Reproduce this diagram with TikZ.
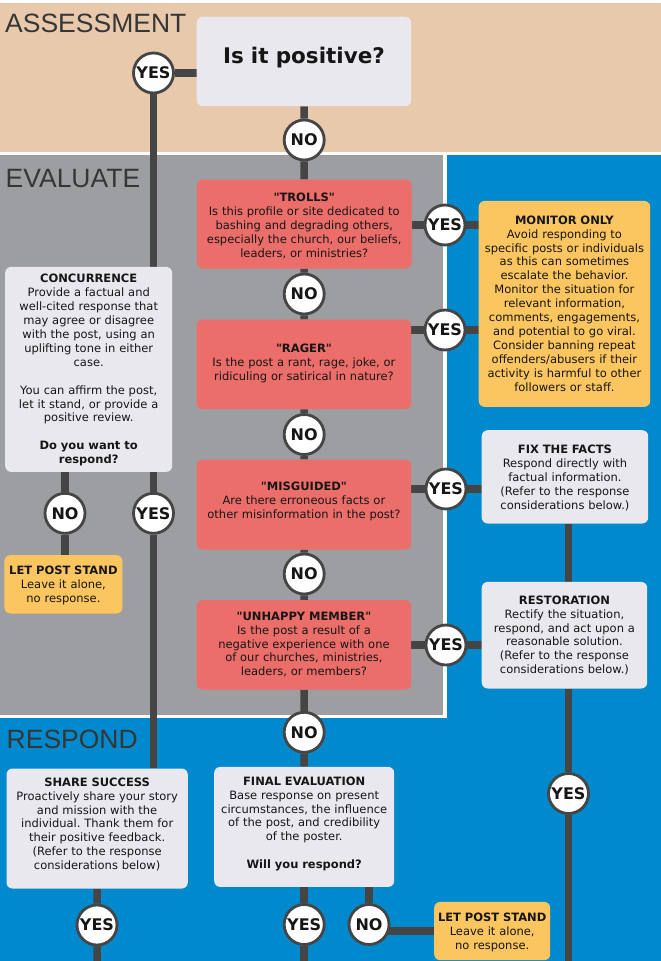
\documentclass[tikz,border=0pt]{standalone}
\usepackage{fontspec}
\setmainfont{DejaVu Sans}[Ligatures=TeXOff]
\newfontfamily\headfont{Liberation Sans}
\usetikzlibrary{positioning}
\frenchspacing

\definecolor{sandbg}{HTML}{E8C9AB}
\definecolor{slatebg}{HTML}{9D9EA2}
\definecolor{skybg}{HTML}{0089CC}
\definecolor{paleboxgray}{HTML}{E8E8EE}
\definecolor{trollred}{HTML}{EC6E6A}
\definecolor{calmyellow}{HTML}{FBC660}
\definecolor{wiregray}{HTML}{454545}
\definecolor{inkdark}{HTML}{161616}
\definecolor{headgray}{HTML}{363636}

\pgfdeclarelayer{backdrop}
\pgfdeclarelayer{wires}
\pgfsetlayers{backdrop,wires,main}

\begin{document}
\begin{tikzpicture}[
		x=1pt, y=-1pt,
		wire/.style={draw=wiregray, line width=7.5pt},
		box/.style={rounded corners=6pt, inner sep=0pt, align=center, anchor=north west, text=inkdark, font=\fontsize{11.5}{13.9}\selectfont},
		greybox/.style={box, fill=paleboxgray},
		redbox/.style={box, fill=trollred},
		yellowbox/.style={box, fill=calmyellow},
		answer/.style={circle, draw=wiregray, line width=2.8pt, fill=white, minimum size=40pt, inner sep=0pt, text=inkdark, font=\bfseries\fontsize{16}{16}\selectfont},
		heading/.style={anchor=base west, inner sep=0pt, text=headgray, font=\headfont\fontsize{26.5}{26.5}\selectfont}
		]
		\useasboundingbox (0,0) rectangle (661,961);
		
		% Zones
		\begin{pgfonlayer}{backdrop}
			\fill[white] (0,0) rectangle (661,961);
			\fill[sandbg] (0,3.3) rectangle (661,152);
			\fill[skybg] (0,155) rectangle (661,961);
			\fill[white] (0,155) rectangle (447,718);
			\fill[slatebg] (0,155) rectangle (443,715);
		\end{pgfonlayer}
		
		\node[heading] (asshead) at (5,32.5) {ASSESSMENT};
		\node[heading] (evalhead) at (5.5,187) {EVALUATE};
		\node[heading] (resphead) at (6.5,748.3) {RESPOND};
		
		% Question boxes
		\node[greybox, text width=214.5pt, text height=46.8pt, text depth=42.7pt, font=\bfseries\fontsize{21.5}{21.5}\selectfont] (ispos) at (196.5,16.5) {Is it positive?};
		
		\node[redbox, text width=214.5pt, text height=22.4pt, text depth=66.6pt] (trolls) at (196.8,179.3) {
			\textbf{"TROLLS"}\\
			Is this profile or site dedicated to\\
			bashing and degrading others,\\
			especially the church, our beliefs,\\
			leaders, or ministries?};
		
		\node[redbox, text width=214.5pt, text height=33.4pt, text depth=56.3pt] (rager) at (196.5,319.3) {
			\textbf{"RAGER"}\\
			Is the post a rant, rage, joke, or\\
			ridiculing or satirical in nature?};
		
		\node[redbox, text width=214.5pt, text height=30.7pt, text depth=59.3pt] (misguided) at (196.5,459.3) {
			\textbf{"MISGUIDED"}\\
			Are there erroneous facts or\\
			other misinformation in the post?};
		
		\node[redbox, text width=214.5pt, text height=20pt, text depth=69.3pt] (unhappy) at (196.5,600) {
			\textbf{"UNHAPPY MEMBER"}\\
			Is the post a result of a\\
			negative experience with one\\
			of our churches, ministries,\\
			leaders, or members?};
		
		% Outcome boxes
		\node[yellowbox, text width=171.5pt, text height=23.3pt, text depth=182.7pt] (monitor) at (478.5,200.7) {
			\textbf{MONITOR ONLY}\\
			Avoid responding to\\
			specific posts or individuals\\
			as this can sometimes\\
			escalate the behavior.\\
			Monitor the situation for\\
			relevant information,\\
			comments, engagements,\\
			and potential to go viral.\\
			Consider banning repeat\\
			offenders/abusers if their\\
			activity is harmful to other\\
			followers or staff.};
		
		\node[greybox, text width=166.5pt, text height=23.3pt, text depth=70pt] (fix) at (481.5,430) {
			\textbf{FIX THE FACTS}\\
			Respond directly with\\
			factual information.\\
			(Refer to the response\\
			considerations below.)};
		
		\node[greybox, text width=165.5pt, text height=22.3pt, text depth=84.3pt] (restore) at (481.5,581.7) {
			\textbf{RESTORATION}\\
			Rectify the situation,\\
			respond, and act upon a\\
			reasonable solution.\\
			(Refer to the response\\
			considerations below.)};
		
		\node[greybox, text width=167pt, text height=16pt, text depth=189pt] (concur) at (5,266.7) {
			\textbf{CONCURRENCE}\\
			Provide a factual and\\
			well-cited response that\\
			may agree or disagree\\
			with the post, using an\\
			uplifting tone in either\\
			case.\\[13.9pt]
			You can affirm the post,\\
			let it stand, or provide a\\
			positive review.\\[13.9pt]
			\textbf{Do you want to}\\
			\textbf{respond?}};
		
		\node[yellowbox, text width=118pt, text height=19pt, text depth=39.3pt] (letstand) at (4.2,555) {
			\textbf{LET POST STAND}\\
			Leave it alone,\\
			no response.};
		
		\node[greybox, text width=181.3pt, text height=17.7pt, text depth=102.3pt] (share) at (6.3,768.3) {
			\textbf{SHARE SUCCESS}\\
			Proactively share your story\\
			and mission with the\\
			individual. Thank them for\\
			their positive feedback.\\
			(Refer to the response\\
			considerations below)};
		
		\node[greybox, text width=180pt, text height=18.3pt, text depth=101.7pt] (final) at (214,766.7) {
			\textbf{FINAL EVALUATION}\\
			Base response on present\\
			circumstances, the influence\\
			of the post, and credibility\\
			of the poster.\\[13.9pt]
			\textbf{Will you respond?}};
		
		\node[yellowbox, text width=116pt, text height=20pt, text depth=38.3pt] (letstandb) at (434,901.7) {
			\textbf{LET POST STAND}\\
			Leave it alone,\\
			no response.};
		
		% Answer circles
		\node[answer] (yestop) at (153.5,73) {YES};
		\node[answer] (notop) at (304.2,140) {NO};
		\node[answer] (yestroll) at (445,225) {YES};
		\node[answer] (notroll) at (304.2,294) {NO};
		\node[answer] (yesrage) at (445,330) {YES};
		\node[answer] (norage) at (304.2,434.5) {NO};
		\node[answer] (yesmis) at (446,489) {YES};
		\node[answer] (nomis) at (304.2,574) {NO};
		\node[answer] (yesunhappy) at (446,645) {YES};
		\node[answer] (nounhappy) at (304.2,732.3) {NO};
		\node[answer] (noconcur) at (65,513.3) {NO};
		\node[answer] (yesconcur) at (153.5,513.3) {YES};
		\node[answer] (yesshare) at (97,925) {YES};
		\node[answer] (yesfinal) at (304.2,924.5) {YES};
		\node[answer] (nofinal) at (369,924.5) {NO};
		\node[answer] (yesrestore) at (568.5,793.5) {YES};
		
		\coordinate (shareend) at (97,961);
		\coordinate (finalend) at (304.2,961);
		\coordinate (restoreend) at (568.5,961);
		
		% Connectors
		\begin{pgfonlayer}{wires}
			\draw[wire] (yestop) -- (yestop -| ispos.west);
			\draw[wire] (yestop) -- (yestop |- concur.north);
			\draw[wire] (ispos) -- (notop) -- (trolls) -- (notroll) -- (rager) -- (norage) -- (misguided) -- (nomis) -- (unhappy) -- (nounhappy) -- (final);
			\draw[wire] (trolls.east |- yestroll) -- (yestroll -| monitor.west);
			\draw[wire] (rager.east |- yesrage) -- (yesrage -| monitor.west);
			\draw[wire] (misguided.east |- yesmis) -- (yesmis -| fix.west);
			\draw[wire] (unhappy.east |- yesunhappy) -- (yesunhappy -| restore.west);
			\draw[wire] (yesrestore |- fix.south) -- (yesrestore |- restore.north);
			\draw[wire] (yesrestore |- restore.south) -- (yesrestore) -- (restoreend);
			\draw[wire] (noconcur |- concur.south) -- (noconcur) -- (noconcur |- letstand.north);
			\draw[wire] (yesconcur |- concur.south) -- (yesconcur) -- (yesconcur |- share.north);
			\draw[wire] (share) -- (yesshare) -- (shareend);
			\draw[wire] (final) -- (yesfinal) -- (finalend);
			\draw[wire] (nofinal |- final.south) -- (nofinal);
			\draw[wire] (letstandb.west) -- (letstandb.west -| nofinal);
		\end{pgfonlayer}
		
	\end{tikzpicture}
\end{document}
